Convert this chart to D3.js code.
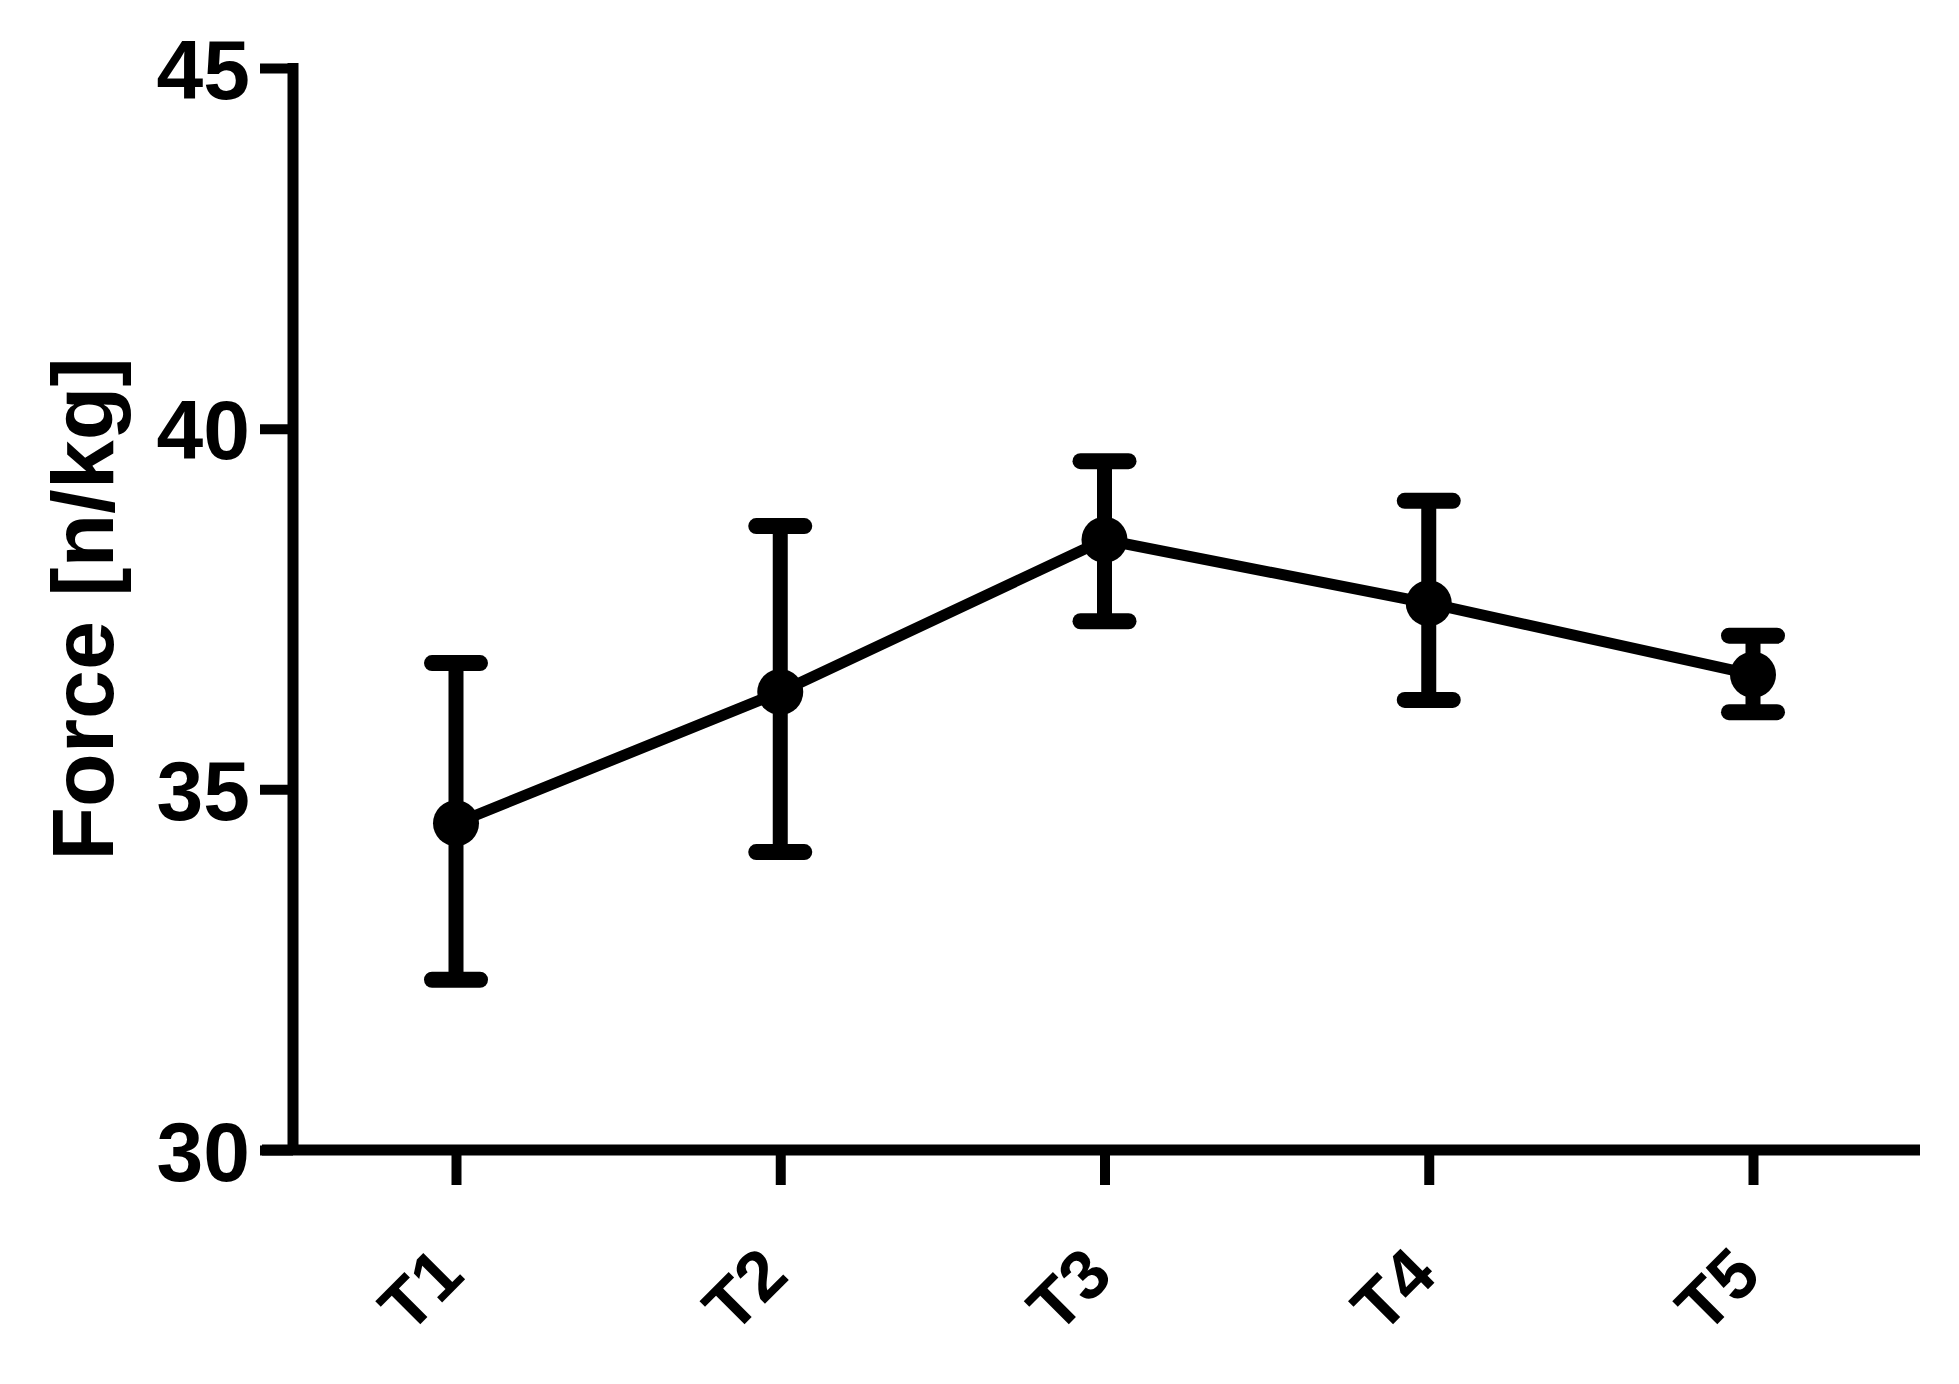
<!DOCTYPE html>
<html>
<head>
<meta charset="utf-8">
<script src="https://cdn.jsdelivr.net/npm/d3@7"></script>
<style>
  html, body { margin: 0; padding: 0; background: #fff; }
  svg { display: block; }
  text { font-family: Arial, "Liberation Sans", sans-serif; font-weight: bold; fill: #000; }
</style>
</head>
<body>
<script>
const categories = ["T1", "T2", "T3", "T4", "T5"];
const means = [34.53, 36.35, 38.46, 37.58, 36.59];
const upper = [36.75, 38.65, 39.55, 39.00, 37.13];
const lower = [32.36, 34.13, 37.33, 36.24, 36.07];
const yTicks = [30, 35, 40, 45];
const yLabel = "Force [n/kg]";

const W = 1959, H = 1384;
const svg = d3.select("body").append("svg").attr("width", W).attr("height", H);

const axisX = 293, axisY = 1150;
const y = d3.scaleLinear().domain([30, 45]).range([1150, 68]);
const x = d3.scalePoint().domain(categories).range([456, 1753]);

// Y axis
const yAxis = d3.axisLeft(y).tickValues(yTicks).tickSize(33).tickPadding(10).tickFormat(d3.format("d"));
const gy = svg.append("g").attr("transform", `translate(${axisX},0)`).call(yAxis);
gy.select(".domain").attr("d", `M0,${y(45) - 5}V${axisY + 5}`).attr("stroke", "#000").attr("stroke-width", 11);
gy.selectAll(".tick line").attr("stroke", "#000").attr("stroke-width", 10);
gy.selectAll(".tick text").attr("font-size", 84).attr("dy", "0.36em").attr("x", -43);

// X axis
const xAxis = d3.axisBottom(x).tickSize(35).tickFormat(d => d);
const gx = svg.append("g").attr("transform", `translate(0,${axisY})`).call(xAxis);
gx.select(".domain").attr("d", `M262,0H1920`).attr("stroke", "#000").attr("stroke-width", 11);
gx.selectAll(".tick line").attr("stroke", "#000").attr("stroke-width", 10);
gx.selectAll(".tick text")
  .attr("font-size", 70)
  .attr("text-anchor", "end")
  .attr("y", 0).attr("dy", 0)
  .attr("transform", "translate(10,128) rotate(-45)");

// Y label
svg.append("text")
  .attr("transform", `translate(113,609) rotate(-90)`)
  .attr("text-anchor", "middle")
  .attr("font-size", 88)
  .text(yLabel);

const data = categories.map((c, i) => ({ c, m: means[i], hi: upper[i], lo: lower[i] }));

// connecting line
svg.append("path")
  .datum(data)
  .attr("fill", "none")
  .attr("stroke", "#000")
  .attr("stroke-width", 11)
  .attr("stroke-linejoin", "round")
  .attr("d", d3.line().x(d => x(d.c)).y(d => y(d.m)));

// error bars
const eb = svg.append("g").selectAll("g").data(data).join("g");
eb.append("line")
  .attr("x1", d => x(d.c)).attr("x2", d => x(d.c))
  .attr("y1", d => y(d.hi)).attr("y2", d => y(d.lo))
  .attr("stroke", "#000").attr("stroke-width", 15);
eb.append("line")
  .attr("x1", d => x(d.c) - 24).attr("x2", d => x(d.c) + 24)
  .attr("y1", d => y(d.hi)).attr("y2", d => y(d.hi))
  .attr("stroke", "#000").attr("stroke-width", 16).attr("stroke-linecap", "round");
eb.append("line")
  .attr("x1", d => x(d.c) - 24).attr("x2", d => x(d.c) + 24)
  .attr("y1", d => y(d.lo)).attr("y2", d => y(d.lo))
  .attr("stroke", "#000").attr("stroke-width", 16).attr("stroke-linecap", "round");

// points
svg.append("g").selectAll("circle").data(data).join("circle")
  .attr("cx", d => x(d.c)).attr("cy", d => y(d.m)).attr("r", 23).attr("fill", "#000");
</script>
</body>
</html>
